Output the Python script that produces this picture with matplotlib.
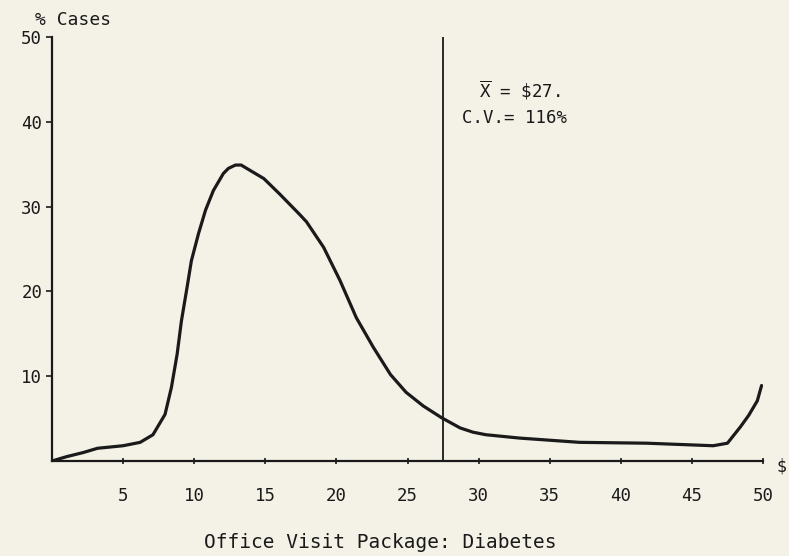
import matplotlib

matplotlib.use("Agg")
import matplotlib.pyplot as plt  # noqa: E402

# cost distribution
cost = [0.0, 1.0, 2.2, 3.2, 5.0, 6.2, 7.1, 7.95, 8.4, 8.8, 9.1, 9.5, 9.8, 10.3,
        10.8, 11.35, 12.05, 12.4, 12.9, 13.3, 13.7, 14.9, 16.0, 16.7, 17.4, 17.9,
        19.1, 20.25, 21.4, 22.6, 23.8, 24.9, 26.1, 27.4, 28.7, 29.6, 30.5, 32.9,
        37.1, 41.8, 46.5, 47.5, 48.4, 49.0, 49.6, 49.9]
pct_cases = [0.0, 0.5, 1.0, 1.5, 1.8, 2.2, 3.1, 5.5, 8.7, 12.6, 16.5, 20.5, 23.6, 26.8,
             29.6, 31.9, 33.9, 34.5, 34.9, 34.9, 34.5, 33.3, 31.5, 30.3, 29.1, 28.2,
             25.2, 21.3, 16.9, 13.4, 10.2, 8.1, 6.5, 5.1, 3.9, 3.4, 3.1, 2.7,
             2.2, 2.1, 1.8, 2.1, 4.0, 5.4, 7.1, 8.9]

mean_cost = 27.5
x_ticks = [5, 10, 15, 20, 25, 30, 35, 40, 45, 50]
y_ticks = [10, 20, 30, 40, 50]

bg = "#f4f1e6"
ink = "#1a1a1a"
mono = "DejaVu Sans Mono"
plt.rcParams["mathtext.fontset"] = "dejavusans"

fig = plt.figure(figsize=(7.89, 5.56), dpi=100)
fig.patch.set_facecolor(bg)
ax = fig.add_axes([52 / 789, 1 - 461 / 556, (763 - 52) / 789, (461 - 37) / 556])
ax.set_facecolor(bg)

ax.plot(cost, pct_cases, color=ink, linewidth=2.3, solid_capstyle="round",
        solid_joinstyle="round")
ax.axvline(mean_cost, color=ink, linewidth=1.3)

ax.set_xlim(0, 50)
ax.set_ylim(0, 50)
for side in ("top", "right"):
    ax.spines[side].set_visible(False)
for side in ("left", "bottom"):
    ax.spines[side].set_linewidth(1.6)
    ax.spines[side].set_color(ink)

ax.set_xticks(x_ticks)
ax.set_yticks(y_ticks)
ax.set_xticklabels([str(t) for t in x_ticks], fontfamily=mono, fontsize=12.5, color=ink)
ax.set_yticklabels([str(t) for t in y_ticks], fontfamily=mono, fontsize=12.5, color=ink)
ax.tick_params(axis="x", direction="inout", length=5, width=1.2, pad=16, colors=ink)
ax.tick_params(axis="y", direction="out", length=4, width=1.2, pad=3, colors=ink)

fig.text(35 / 789, 1 - 20 / 556, "% Cases", fontfamily=mono, fontsize=13,
         color=ink, va="center", ha="left")
fig.text(776 / 789, 1 - 466 / 556, "$", fontfamily=mono, fontsize=12,
         color=ink, va="center", ha="left")

ax.text(0.60, 0.875, r"$\overline{\mathtt{X}}$ = \$27.", transform=ax.transAxes,
        fontfamily=mono, fontsize=12.5, color=ink, ha="left", va="center")
ax.text(0.576, 0.809, "C.V.= 116%", transform=ax.transAxes, fontfamily=mono,
        fontsize=12.5, color=ink, ha="left", va="center")

fig.text(380 / 789, 1 - 543 / 556, "Office Visit Package: Diabetes",
         fontfamily=mono, fontsize=14, color=ink, ha="center", va="center")

fig.savefig("out.png", dpi=100, facecolor=fig.get_facecolor())
